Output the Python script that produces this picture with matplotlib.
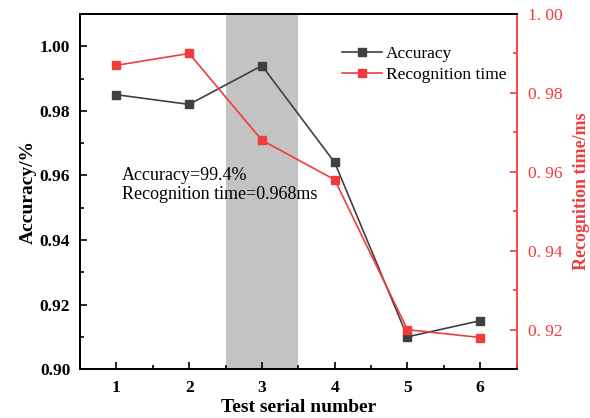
import numpy as np
import matplotlib.pyplot as plt
from matplotlib.ticker import MultipleLocator, FuncFormatter

plt.rcParams['font.family'] = ['Liberation Serif', 'DejaVu Serif']

tests = [1, 2, 3, 4, 5, 6]
accuracy = [0.985, 0.982, 0.994, 0.964, 0.910, 0.915]
rec_time = [0.987, 0.990, 0.968, 0.958, 0.920, 0.918]

red = '#f03c3c'
dark = '#404040'

fig = plt.figure(figsize=(5.9, 4.18), dpi=100)
ax = fig.add_axes([0.1356, 0.117, 0.740, 0.8495])
ax2 = ax.twinx()

ax.axvspan(2.5, 3.5, color='#c3c3c3', zorder=0, lw=0)

l1, = ax.plot(tests, accuracy, color=dark, marker='s', ms=5.5, lw=1.2, label='Accuracy')
l2, = ax2.plot(tests, rec_time, color=red, marker='s', ms=5.5, lw=1.2, label='Recognition time')

ax.set_xlim(0.5, 6.5)
ax.set_ylim(0.90, 1.01)
ax2.set_ylim(0.91, 1.00)

ax.xaxis.set_major_locator(MultipleLocator(1))
ax.xaxis.set_minor_locator(MultipleLocator(0.5))
ax.yaxis.set_major_locator(MultipleLocator(0.02))
ax.yaxis.set_minor_locator(MultipleLocator(0.01))
ax2.yaxis.set_major_locator(MultipleLocator(0.02))
ax2.yaxis.set_minor_locator(MultipleLocator(0.01))
ax2.yaxis.set_major_formatter(FuncFormatter(lambda v, p: ('%.2f' % v).replace('.', '. ')))

ax.tick_params(which='both', direction='in', width=1.2, labelsize=12.5)
ax.tick_params(which='major', length=5)
ax.tick_params(which='minor', length=3)
ax.tick_params(axis='y', pad=7)
ax.tick_params(axis='x', top=False, pad=8)
for lab in ax.get_xticklabels() + ax.get_yticklabels():
    lab.set_fontweight('bold')

ax2.tick_params(which='both', direction='in', width=1.2, colors=red, labelsize=12.5, pad=8)
ax2.tick_params(which='major', length=5)
ax2.tick_params(which='minor', length=3)
ax2.spines['right'].set_color(red)
for s in ['left', 'top', 'bottom']:
    ax.spines[s].set_linewidth(1.3)
    ax2.spines[s].set_linewidth(1.3)
ax2.spines['right'].set_linewidth(1.3)
ax.spines['right'].set_visible(False)

ax.set_xlabel('Test serial number', fontsize=14, fontweight='bold', labelpad=2)
ax.set_ylabel('Accuracy/%', fontsize=14, fontweight='bold', labelpad=2)
ax2.set_ylabel('Recognition time/ms', fontsize=13, fontweight='bold', color=red, labelpad=8)

ax.text(1.08, 0.957, 'Accuracy=99.4%\nRecognition time=0.968ms', fontsize=13,
        linespacing=1.15, va='center')

ax.legend(handles=[l1, l2], loc='upper right', frameon=False, fontsize=12.5,
          bbox_to_anchor=(0.993, 0.93), borderaxespad=0, handlelength=2.3,
          handletextpad=0.25, labelspacing=0.3)

fig.savefig('out.png', dpi=100)
